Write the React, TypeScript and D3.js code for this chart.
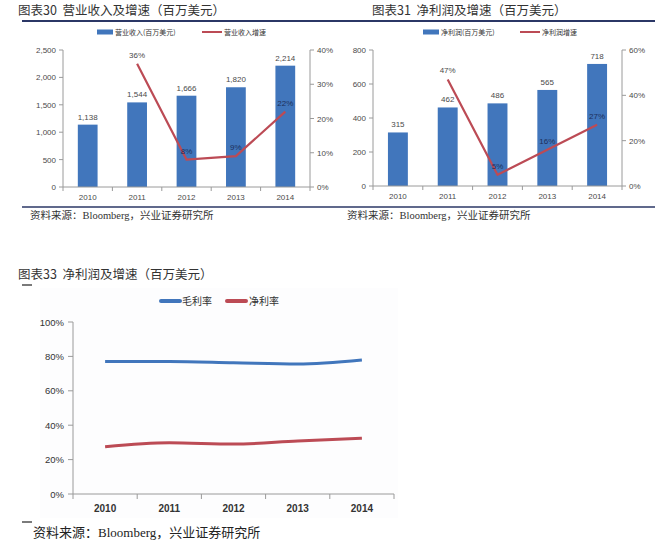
import React from 'react';
import * as d3 from 'd3';

const years = ['2010', '2011', '2012', '2013', '2014'];

// 图表30
const revenue = [1138, 1544, 1666, 1820, 2214];
const revenueGrowth = [null, 36, 8, 9, 22];
const revenueTicks = [0, 500, 1000, 1500, 2000, 2500];
const revenueGrowthTicks = [0, 10, 20, 30, 40];

// 图表31
const profit = [315, 462, 486, 565, 718];
const profitGrowth = [null, 47, 5, 16, 27];
const profitTicks = [0, 200, 400, 600, 800];
const profitGrowthTicks = [0, 20, 40, 60];

// 图表33
const grossMargin = [77, 77, 76.3, 75.6, 77.9];
const netMargin = [27.5, 29.8, 29, 30.8, 32.4];
const marginTicks = [0, 20, 40, 60, 80, 100];

const BLUE = '#4176BC';
const RED = '#BC4B55';
const AXIS = '#9a9a9a';
const LABEL = '#4a4a4a';
const SANS = '"Liberation Sans", "DejaVu Sans", sans-serif';
const CJK = '"Noto Sans CJK SC", sans-serif';
const SOURCE_FONT = '"Liberation Serif", "Noto Sans CJK SC", serif';

const fmt = d3.format(',');

interface ComboProps {
  left: number;
  right: number;
  top: number;
  bottom: number;
  bars: number[];
  growth: (number | null)[];
  barTicks: number[];
  growthTicks: number[];
  barLabel: string;
  lineLabel: string;
  legendX: number;
  legendLineX: number;
}

function Combo(p: ComboProps) {
  const x = d3.scaleBand<string>().domain(years).range([p.left, p.right]).paddingInner(0.6).paddingOuter(0.3);
  const xb = d3.scaleBand<string>().domain(years).range([p.left, p.right]);
  const y = d3.scaleLinear().domain([0, p.barTicks[p.barTicks.length - 1]]).range([p.bottom, p.top]);
  const y2 = d3.scaleLinear().domain([0, p.growthTicks[p.growthTicks.length - 1]]).range([p.bottom, p.top]);
  const pts = years.map((yr, i) => ({ yr, v: p.growth[i] })).filter(d => d.v !== null) as { yr: string; v: number }[];
  const line = d3.line<{ yr: string; v: number }>()
    .x(d => (xb(d.yr) as number) + xb.bandwidth() / 2)
    .y(d => y2(d.v));
  const ly = p.top - 18;
  return (
    <g>
      {/* legend */}
      <rect x={p.legendX} y={ly - 2.5} width={16} height={5} fill={BLUE} />
      <text x={p.legendX + 18} y={ly + 2.5} fontSize={7} fontFamily={CJK} fill="#333">{p.barLabel}</text>
      <line x1={p.legendLineX} x2={p.legendLineX + 20} y1={ly} y2={ly} stroke={RED} strokeWidth={2} />
      <text x={p.legendLineX + 22} y={ly + 2.5} fontSize={7} fontFamily={CJK} fill="#333">{p.lineLabel}</text>

      {/* bars */}
      {years.map((yr, i) => (
        <g key={yr}>
          <rect x={x(yr)} y={y(p.bars[i])} width={x.bandwidth()} height={p.bottom - y(p.bars[i])} fill={BLUE} />
          <text x={(x(yr) as number) + x.bandwidth() / 2} y={y(p.bars[i]) - 5} textAnchor="middle" fontSize={8} fontFamily={SANS} fill={LABEL}>{fmt(p.bars[i])}</text>
        </g>
      ))}

      {/* line */}
      <path d={line(pts) || ''} fill="none" stroke={RED} strokeWidth={2.2} />
      {pts.map(d => (
        <text key={d.yr} x={(xb(d.yr) as number) + xb.bandwidth() / 2} y={y2(d.v) - 6} textAnchor="middle" fontSize={8} fontFamily={SANS}
          fill={d.v > 30 ? LABEL : '#1d2f5a'}>{d.v}%</text>
      ))}

      {/* left axis */}
      <line x1={p.left} x2={p.left} y1={p.top} y2={p.bottom} stroke={AXIS} />
      {p.barTicks.map(t => (
        <g key={t}>
          <line x1={p.left - 4} x2={p.left} y1={y(t)} y2={y(t)} stroke={AXIS} />
          <text x={p.left - 7} y={y(t) + 3} textAnchor="end" fontSize={8} fontFamily={SANS} fill={LABEL}>{fmt(t)}</text>
        </g>
      ))}
      {/* right axis */}
      <line x1={p.right} x2={p.right} y1={p.top} y2={p.bottom} stroke={AXIS} />
      {p.growthTicks.map(t => (
        <g key={t}>
          <line x1={p.right} x2={p.right + 4} y1={y2(t)} y2={y2(t)} stroke={AXIS} />
          <text x={p.right + 7} y={y2(t) + 3} fontSize={8} fontFamily={SANS} fill={LABEL}>{t}%</text>
        </g>
      ))}
      {/* x axis */}
      <line x1={p.left} x2={p.right} y1={p.bottom} y2={p.bottom} stroke={AXIS} />
      {years.map(yr => (
        <g key={yr}>
          <line x1={(xb(yr) as number) + xb.bandwidth()} x2={(xb(yr) as number) + xb.bandwidth()} y1={p.bottom} y2={p.bottom + 4} stroke={AXIS} />
          <text x={(xb(yr) as number) + xb.bandwidth() / 2} y={p.bottom + 13} textAnchor="middle" fontSize={8} fontFamily={SANS} fill={LABEL}>{yr}</text>
        </g>
      ))}
      <line x1={p.left} x2={p.left} y1={p.bottom} y2={p.bottom + 4} stroke={AXIS} />
    </g>
  );
}

function Margins() {
  const left = 73, right = 394, top = 322, bottom = 494;
  const x = d3.scaleBand<string>().domain(years).range([left, right]);
  const y = d3.scaleLinear().domain([0, 100]).range([bottom, top]);
  const line = d3.line<number>()
    .x((_, i) => (x(years[i]) as number) + x.bandwidth() / 2)
    .y(d => y(d))
    .curve(d3.curveMonotoneX);
  return (
    <g>
      <rect x={40} y={288} width={358} height={230} fill="#fdfdfe" />
      {/* legend */}
      <line x1={161} x2={180} y1={301} y2={301} stroke={BLUE} strokeWidth={4} strokeLinecap="round" />
      <text x={182} y={305} fontSize={10} fontFamily={CJK} fill="#333">毛利率</text>
      <line x1={227} x2={246} y1={301} y2={301} stroke={RED} strokeWidth={4} strokeLinecap="round" />
      <text x={249} y={305} fontSize={10} fontFamily={CJK} fill="#333">净利率</text>

      <line x1={left} x2={left} y1={top} y2={bottom} stroke={AXIS} />
      {marginTicks.map(t => (
        <g key={t}>
          <line x1={left - 5} x2={left} y1={y(t)} y2={y(t)} stroke={AXIS} />
          <text x={left - 9} y={y(t) + 3.5} textAnchor="end" fontSize={9.5} fontFamily={SANS} fill="#333">{t}%</text>
        </g>
      ))}
      <line x1={left} x2={right} y1={bottom} y2={bottom} stroke={AXIS} />
      <line x1={left} x2={left} y1={bottom} y2={bottom + 5} stroke={AXIS} />
      {years.map(yr => (
        <g key={yr}>
          <line x1={(x(yr) as number) + x.bandwidth()} x2={(x(yr) as number) + x.bandwidth()} y1={bottom} y2={bottom + 5} stroke={AXIS} />
          <text x={(x(yr) as number) + x.bandwidth() / 2} y={bottom + 18} textAnchor="middle" fontSize={10} fontWeight="bold" fontFamily={SANS} fill="#333">{yr}</text>
        </g>
      ))}
      <path d={line(grossMargin) || ''} fill="none" stroke={BLUE} strokeWidth={3} />
      <path d={line(netMargin) || ''} fill="none" stroke={RED} strokeWidth={3} />
    </g>
  );
}

export default function App() {
  return (
    <svg width={661} height={550} style={{ position: 'absolute', left: 0, top: 0, background: '#fff' }}>
      <rect width={661} height={550} fill="#fff" />
      {/* titles */}
      <text x={18} y={15} fontSize={12.5} fontFamily={CJK} fill="#333">图表30{'\u00a0\u00a0'}营业收入及增速（百万美元）</text>
      <text x={372} y={15} fontSize={12.5} fontFamily={CJK} fill="#333">图表31{'\u00a0\u00a0'}净利润及增速（百万美元）</text>
      <line x1={22} x2={655} y1={21} y2={21} stroke="#2b3766" strokeWidth={2} />

      <Combo left={63} right={310} top={50} bottom={187} bars={revenue} growth={revenueGrowth}
        barTicks={revenueTicks} growthTicks={revenueGrowthTicks}
        barLabel="营业收入(百万美元)" lineLabel="营业收入增速" legendX={97} legendLineX={202} />
      <Combo left={373} right={622} top={50} bottom={186} bars={profit} growth={profitGrowth}
        barTicks={profitTicks} growthTicks={profitGrowthTicks}
        barLabel="净利润(百万美元)" lineLabel="净利润增速" legendX={423} legendLineX={520} />

      <line x1={22} x2={655} y1={207} y2={207} stroke="#2b3766" strokeWidth={1.5} />
      <text x={30} y={219} fontSize={10.5} fontFamily={SOURCE_FONT} fill="#333">资料来源：Bloomberg，兴业证券研究所</text>
      <text x={347} y={219} fontSize={10.5} fontFamily={SOURCE_FONT} fill="#333">资料来源：Bloomberg，兴业证券研究所</text>

      {/* 图表33 */}
      <text x={18} y={279} fontSize={12.5} fontFamily={CJK} fill="#333">图表33{'\u00a0\u00a0'}净利润及增速（百万美元）</text>
      <line x1={22} x2={32} y1={285} y2={285} stroke="#222" strokeWidth={1.2} />
      <Margins />
      <line x1={22} x2={32} y1={522} y2={522} stroke="#222" strokeWidth={1.2} />
      <text x={33} y={537} fontSize={13} fontFamily={SOURCE_FONT} fill="#222">资料来源：Bloomberg，兴业证券研究所</text>
    </svg>
  );
}
